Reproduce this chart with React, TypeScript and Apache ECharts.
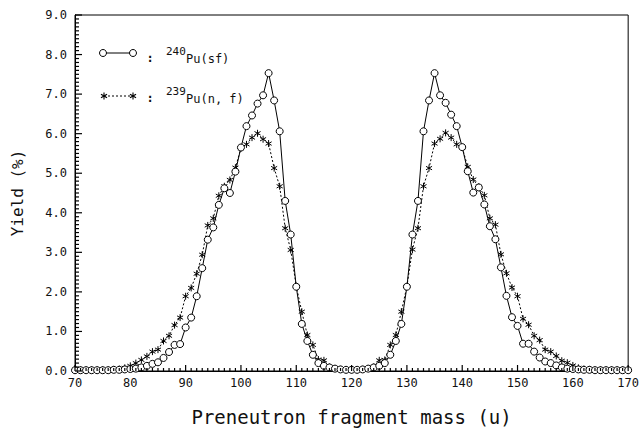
import React, { useEffect, useRef } from "react";
import * as echarts from "echarts";

// fragment masses 70..170 (u)
const masses: number[] = [];
for (let m = 70; m <= 170; m++) masses.push(m);

// 240Pu(sf) yields (%), masses 70..170
const pu240sf = [
  0.02, 0.02, 0.02, 0.02, 0.02, 0.02, 0.02, 0.03, 0.03, 0.04,
  0.05, 0.06, 0.09, 0.13, 0.18, 0.22, 0.33, 0.48, 0.66, 0.68,
  1.10, 1.35, 1.89, 2.60, 3.32, 3.63, 4.20, 4.62, 4.50, 5.04,
  5.65, 6.19, 6.46, 6.76, 6.97, 7.53, 6.84, 6.06, 4.30, 3.45,
  2.13, 1.19, 0.76, 0.41, 0.20, 0.13, 0.09, 0.06, 0.04, 0.03,
  0.03, 0.03, 0.04, 0.06, 0.09, 0.13, 0.20, 0.41, 0.76, 1.19,
  2.13, 3.45, 4.30, 6.06, 6.84, 7.53, 6.97, 6.78, 6.48, 6.19,
  5.66, 5.05, 4.51, 4.64, 4.21, 3.66, 3.33, 2.62, 1.90, 1.36,
  1.14, 0.69, 0.69, 0.49, 0.34, 0.24, 0.20, 0.14, 0.09, 0.06,
  0.05, 0.04, 0.03, 0.03, 0.02, 0.02, 0.02, 0.02, 0.02, 0.02,
  0.02,
];

// 239Pu(n,f) yields (%), masses 70..170
const pu239nf = [
  0.03, 0.03, 0.03, 0.03, 0.03, 0.03, 0.03, 0.04, 0.05, 0.08,
  0.13, 0.20, 0.28, 0.37, 0.49, 0.54, 0.76, 0.89, 1.16, 1.35,
  1.89, 2.10, 2.46, 2.94, 3.68, 3.86, 4.43, 4.67, 4.83, 5.14,
  5.63, 5.73, 5.90, 6.01, 5.86, 5.75, 5.13, 4.67, 3.61, 3.06,
  2.14, 1.50, 0.91, 0.66, 0.29, 0.27, 0.10, 0.06, 0.04, 0.03,
  0.03, 0.03, 0.04, 0.06, 0.10, 0.27, 0.28, 0.66, 0.91, 1.50,
  2.14, 3.07, 3.61, 4.67, 5.13, 5.75, 5.87, 6.02, 5.90, 5.73,
  5.65, 5.16, 4.84, 4.66, 4.44, 3.86, 3.70, 2.95, 2.47, 2.11,
  1.89, 1.32, 1.17, 0.89, 0.78, 0.54, 0.49, 0.38, 0.26, 0.21,
  0.14, 0.08, 0.05, 0.04, 0.03, 0.03, 0.03, 0.03, 0.03, 0.03,
  0.03,
];

// tick positions: x every 1 u (major every 10), y every 0.1 % (major every 1)
const xTickValues: number[] = [];
for (let m = 70; m <= 170; m++) xTickValues.push(m);
const yTickValues: number[] = [];
for (let k = 0; k <= 90; k++) yTickValues.push(k / 10);

const xName = "Preneutron fragment mass (u)";
const yName = "Yield (%)";
const legendSup = ["240", "239"];
const legendMain = ["Pu(sf)", "Pu(n, f)"];

const FONT = "'DejaVu Sans Mono', 'Liberation Mono', monospace";
const STAR = "path://M5,0L5,10M0.67,2.5L9.33,7.5M0.67,7.5L9.33,2.5";

function starGraphic(cx: number, cy: number, r: number) {
  const lines = [];
  for (let k = 0; k < 3; k++) {
    const a = (Math.PI / 3) * k + Math.PI / 2;
    lines.push({
      type: "line",
      shape: { x1: cx - r * Math.cos(a), y1: cy - r * Math.sin(a), x2: cx + r * Math.cos(a), y2: cy + r * Math.sin(a) },
      style: { stroke: "#000", lineWidth: 1.1 },
      z: 100,
    });
  }
  return lines;
}

export default function App() {
  const ref = useRef<HTMLDivElement>(null);
  useEffect(() => {
    const chart = echarts.init(ref.current!, null, { renderer: "svg" });
    chart.setOption({
      animation: false,
      backgroundColor: "#fff",
      grid: { left: 75, right: 11, top: 15, bottom: 58, show: true, borderColor: "#000", borderWidth: 1, backgroundColor: "transparent" },
      xAxis: {
        type: "value",
        min: 70,
        max: 170,
        interval: 10,
        name: xName,
        nameLocation: "middle",
        nameGap: 36,
        nameTextStyle: { fontFamily: FONT, fontSize: 19, color: "#111" },
        axisLine: { show: true, onZero: false, lineStyle: { color: "#000", width: 1 } },
        axisTick: { show: false },
        axisLabel: { fontFamily: FONT, fontSize: 12, color: "#111", margin: 6 },
        splitLine: { show: false },
      },
      yAxis: {
        type: "value",
        min: 0,
        max: 9,
        interval: 1,
        name: yName,
        nameLocation: "middle",
        nameGap: 50,
        nameTextStyle: { fontFamily: FONT, fontSize: 16, color: "#111" },
        axisLine: { show: true, lineStyle: { color: "#000", width: 1 } },
        axisTick: { show: false },
        axisLabel: { fontFamily: FONT, fontSize: 12, color: "#111", margin: 8, formatter: (v: number) => v.toFixed(1) },
        splitLine: { show: false },
      },
      series: [
        {
          name: "xTicks",
          type: "custom",
          silent: true,
          clip: false,
          z: 10,
          data: xTickValues.map((v) => [v, 0]),
          renderItem: (_p: any, api: any) => {
            const v = api.value(0);
            const pt = api.coord([v, 0]);
            const len = v % 10 === 0 ? 6 : 3;
            return { type: "line", shape: { x1: pt[0], y1: pt[1], x2: pt[0], y2: pt[1] - len }, style: { stroke: "#000", lineWidth: 1.2 } };
          },
        },
        {
          name: "yTicks",
          type: "custom",
          silent: true,
          clip: false,
          z: 10,
          data: yTickValues.map((v) => [70, v]),
          renderItem: (_p: any, api: any) => {
            const v = api.value(1);
            const pt = api.coord([70, v]);
            const major = Math.abs(v - Math.round(v)) < 1e-6;
            const len = major ? 7 : 4;
            return { type: "line", shape: { x1: pt[0], y1: pt[1], x2: pt[0] + len, y2: pt[1] }, style: { stroke: "#000", lineWidth: 1.2 } };
          },
        },
        {
          name: "239Pu(n,f)",
          type: "line",
          data: masses.map((m, i) => [m, pu239nf[i]]),
          symbol: STAR,
          symbolSize: 7,
          symbolKeepAspect: true,
          itemStyle: { color: "#000", borderColor: "#000", borderWidth: 1 },
          lineStyle: { color: "#000", width: 1, type: [2, 2] },
          z: 3,
        },
        {
          name: "240Pu(sf)",
          type: "line",
          data: masses.map((m, i) => [m, pu240sf[i]]),
          symbol: "circle",
          symbolSize: 7,
          itemStyle: { color: "#fff", borderColor: "#000", borderWidth: 1 },
          lineStyle: { color: "#000", width: 1 },
          z: 4,
        },
      ],
      graphic: [
        { type: "line", shape: { x1: 103, y1: 53, x2: 133, y2: 53 }, style: { stroke: "#000", lineWidth: 1 }, z: 100 },
        { type: "circle", shape: { cx: 103, cy: 53, r: 3.5 }, style: { fill: "#fff", stroke: "#000", lineWidth: 1 }, z: 101 },
        { type: "circle", shape: { cx: 133, cy: 53, r: 3.5 }, style: { fill: "#fff", stroke: "#000", lineWidth: 1 }, z: 101 },
        { type: "text", x: 150, y: 58, style: { text: ":", font: `bold 12px ${FONT}`, fill: "#111", align: "center", verticalAlign: "middle" }, z: 100 },
        { type: "text", x: 166, y: 51, style: { text: legendSup[0], font: `11px ${FONT}`, fill: "#111", align: "left", verticalAlign: "middle" }, z: 100 },
        { type: "text", x: 186, y: 59, style: { text: legendMain[0], font: `12px ${FONT}`, fill: "#111", align: "left", verticalAlign: "middle" }, z: 100 },
        { type: "line", shape: { x1: 104, y1: 96, x2: 133, y2: 96 }, style: { stroke: "#000", lineWidth: 1, lineDash: [2, 2] }, z: 100 },
        ...starGraphic(104, 96, 3.5),
        ...starGraphic(133, 96, 3.5),
        { type: "text", x: 150, y: 98, style: { text: ":", font: `bold 12px ${FONT}`, fill: "#111", align: "center", verticalAlign: "middle" }, z: 100 },
        { type: "text", x: 166, y: 91, style: { text: legendSup[1], font: `11px ${FONT}`, fill: "#111", align: "left", verticalAlign: "middle" }, z: 100 },
        { type: "text", x: 186, y: 99, style: { text: legendMain[1], font: `12px ${FONT}`, fill: "#111", align: "left", verticalAlign: "middle" }, z: 100 },
      ],
    });
    return () => chart.dispose();
  }, []);
  return <div ref={ref} style={{ position: "absolute", left: 0, top: 0, width: 642, height: 431, background: "#fff" }} />;
}
